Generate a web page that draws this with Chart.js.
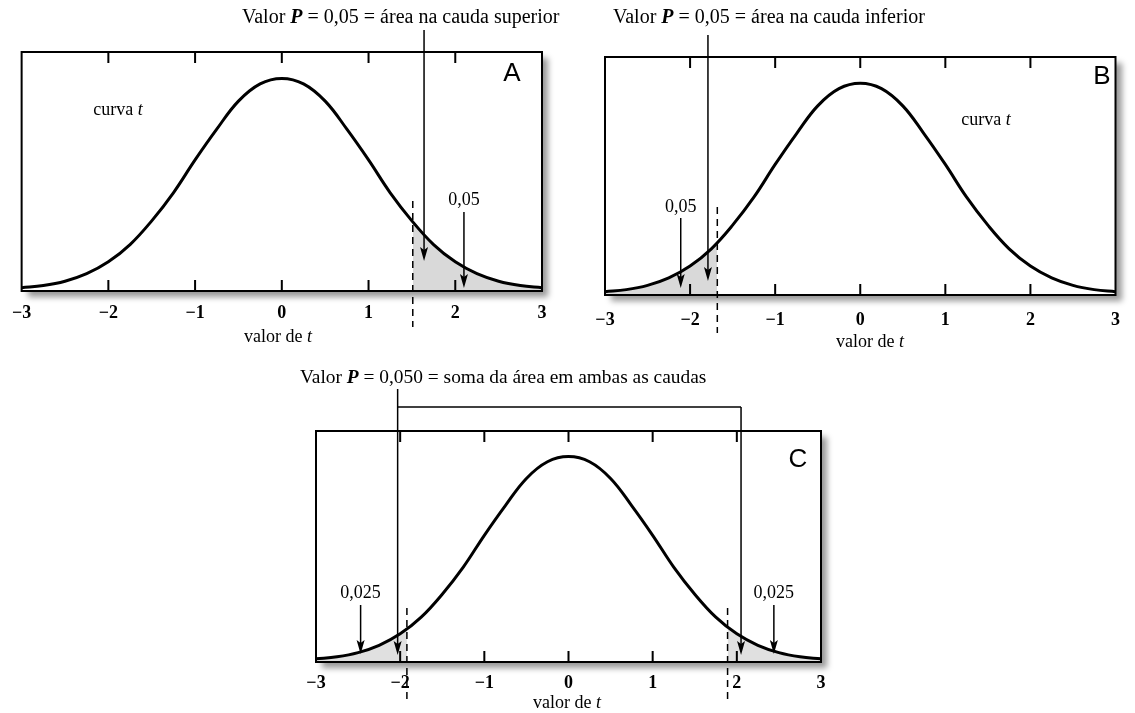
<!DOCTYPE html>
<html lang="pt">
<head>
<meta charset="utf-8">
<title>Valor P na curva t</title>
<script src="https://cdn.jsdelivr.net/npm/chart.js@4.4.1/dist/chart.umd.min.js"></script>
<style>
  html, body { margin: 0; padding: 0; background: #fff; }
  #page { position: relative; width: 1135px; height: 713px; }
  #page canvas { position: absolute; left: 0; top: 0; }
</style>
</head>
<body>
<div id="page">
  <canvas id="chartA" width="1135" height="713"></canvas>
  <canvas id="chartB" width="1135" height="713"></canvas>
  <canvas id="chartC" width="1135" height="713"></canvas>
</div>
<script>
// curva t (valor de t -> altura da curva)
const tValues = [-3, -2.75, -2.5, -2.25, -2, -1.75, -1.5, -1.25, -1, -0.75, -0.5, -0.25, 0,
                 0.25, 0.5, 0.75, 1, 1.25, 1.5, 1.75, 2, 2.25, 2.5, 2.75, 3];
const curveHeight = [0.006, 0.010, 0.018, 0.032, 0.054, 0.086, 0.130, 0.182, 0.243, 0.300, 0.352, 0.384, 0.394,
                     0.384, 0.352, 0.300, 0.243, 0.182, 0.130, 0.086, 0.054, 0.032, 0.018, 0.010, 0.006];
const tickLabels = ['\u22123', '\u22122', '\u22121', '0', '1', '2', '3'];

// caudas sombreadas
const tailA_t = [1.51, 1.75, 2, 2.25, 2.5, 2.75, 3];
const tailA_y = [0.131, 0.086, 0.054, 0.032, 0.018, 0.010, 0.006];
const tailB_t = [-3, -2.75, -2.5, -2.25, -2, -1.75, -1.68];
const tailB_y = [0.006, 0.010, 0.018, 0.032, 0.054, 0.086, 0.095];
const tailCLeft_t = [-3, -2.75, -2.5, -2.25, -2, -1.92];
const tailCLeft_y = [0.006, 0.010, 0.018, 0.032, 0.054, 0.063];
const tailCRight_t = [1.89, 2, 2.25, 2.5, 2.75, 3];
const tailCRight_y = [0.066, 0.054, 0.032, 0.018, 0.010, 0.006];

// valores críticos marcados nas figuras
const cutA = 1.51, arrowTitleA = 1.64, arrowAreaA = 2.1;
const cutB = -1.68, arrowTitleB = -1.79, arrowAreaB = -2.11;
const cutsC = [-1.92, 1.89], bracketC = [-2.03, 2.05], arrowsAreaC = [-2.47, 2.44];

const SERIF = '"Liberation Serif", "Times New Roman", serif';
const SANS = '"Liberation Sans", Arial, sans-serif';
const AXIS_H = 40;

const pts = (xs, ys) => xs.map((x, i) => ({ x: x, y: ys[i] }));

function richText(ctx, parts, x, y, align) {
  ctx.textBaseline = 'middle';
  ctx.textAlign = 'left';
  let w = 0;
  for (const [txt, font] of parts) { ctx.font = font; w += ctx.measureText(txt).width; }
  let cx = align === 'center' ? x - w / 2 : x;
  for (const [txt, font] of parts) {
    ctx.font = font;
    ctx.fillText(txt, cx, y);
    cx += ctx.measureText(txt).width;
  }
}

function titleParts(before, after, size) {
  const f = size + 'px ' + SERIF;
  return [[before, f], ['P', 'bold italic ' + size + 'px ' + SERIF], [after, f]];
}

function arrowDown(ctx, x, y1, y2) {
  ctx.beginPath();
  ctx.moveTo(x, y1);
  ctx.lineTo(x, y2 - 10);
  ctx.lineWidth = 1.5;
  ctx.stroke();
  ctx.beginPath();
  ctx.moveTo(x, y2);
  ctx.lineTo(x - 4, y2 - 14);
  ctx.lineTo(x, y2 - 11);
  ctx.lineTo(x + 4, y2 - 14);
  ctx.closePath();
  ctx.fill();
}

function dashedV(ctx, x, y1, y2) {
  ctx.save();
  ctx.setLineDash([7, 5]);
  ctx.lineWidth = 1.5;
  ctx.beginPath();
  ctx.moveTo(x, y1);
  ctx.lineTo(x, y2);
  ctx.stroke();
  ctx.restore();
}

const panels = [
  {
    canvas: 'chartA', letter: 'A', letterPos: [512, 74],
    area: { left: 19, right: 542, top: 52, bottom: 291 }, tickPad: 12,
    tails: [pts(tailA_t, tailA_y)], shade: '#d9d9d9',
    xTitle: [278, 337],
    curvaT: [118, 110],
    title: { parts: titleParts('Valor ', ' = 0,05 = área na cauda superior', 20), x: 242, y: 18 },
    marks(ctx, xs) {
      dashedV(ctx, xs.getPixelForValue(cutA), 201, 327);
      arrowDown(ctx, xs.getPixelForValue(arrowTitleA), 30, 261);
      arrowDown(ctx, xs.getPixelForValue(arrowAreaA), 212, 288);
      richText(ctx, [['0,05', '18px ' + SERIF]], xs.getPixelForValue(arrowAreaA), 200, 'center');
    }
  },
  {
    canvas: 'chartB', letter: 'B', letterPos: [1102, 77],
    area: { left: 605, right: 1129, top: 57, bottom: 295 }, tickPad: 15,
    tails: [pts(tailB_t, tailB_y)], shade: '#d9d9d9',
    xTitle: [870, 342],
    curvaT: [986, 120],
    title: { parts: titleParts('Valor ', ' = 0,05 = área na cauda inferior', 20), x: 613, y: 18 },
    marks(ctx, xs) {
      dashedV(ctx, xs.getPixelForValue(cutB), 207, 333);
      arrowDown(ctx, xs.getPixelForValue(arrowTitleB), 35, 281);
      arrowDown(ctx, xs.getPixelForValue(arrowAreaB), 218, 288);
      richText(ctx, [['0,05', '18px ' + SERIF]], xs.getPixelForValue(arrowAreaB), 207, 'center');
    }
  },
  {
    canvas: 'chartC', letter: 'C', letterPos: [798, 460],
    area: { left: 316, right: 821, top: 431, bottom: 662 }, tickPad: 11,
    tails: [pts(tailCLeft_t, tailCLeft_y), pts(tailCRight_t, tailCRight_y)], shade: '#e0e0e0',
    xTitle: [567, 703],
    curvaT: null,
    title: { parts: titleParts('Valor ', ' = 0,050 = soma da área em ambas as caudas', 19.4), x: 300, y: 378 },
    marks(ctx, xs) {
      cutsC.forEach(c => dashedV(ctx, xs.getPixelForValue(c), 608, 701));
      const bl = xs.getPixelForValue(bracketC[0]), br = xs.getPixelForValue(bracketC[1]);
      ctx.beginPath();
      ctx.moveTo(bl, 407);
      ctx.lineTo(br, 407);
      ctx.lineWidth = 1.5;
      ctx.stroke();
      arrowDown(ctx, bl, 389, 655);
      arrowDown(ctx, br, 407, 655);
      arrowsAreaC.forEach(a => {
        const px = xs.getPixelForValue(a);
        arrowDown(ctx, px, 605, 654);
        richText(ctx, [['0,025', '18px ' + SERIF]], px, 593, 'center');
      });
    }
  }
];

function panelPlugin(p) {
  return {
    id: 'panel' + p.letter,
    beforeDatasetsDraw(chart) {
      const a = chart.chartArea, ctx = chart.ctx;
      ctx.save();
      ctx.shadowColor = 'rgba(0,0,0,0.4)';
      ctx.shadowBlur = 6;
      ctx.shadowOffsetX = 6;
      ctx.shadowOffsetY = 6;
      ctx.fillStyle = '#fff';
      ctx.fillRect(a.left, a.top, a.right - a.left, a.bottom - a.top);
      ctx.restore();
    },
    afterDatasetsDraw(chart) {
      const a = chart.chartArea, ctx = chart.ctx, xs = chart.scales.x;
      ctx.save();
      ctx.strokeStyle = '#000';
      ctx.fillStyle = '#000';
      // moldura
      ctx.lineWidth = 2;
      ctx.strokeRect(a.left, a.top, a.right - a.left, a.bottom - a.top);
      // marcas internas do eixo
      for (let v = -2; v <= 2; v++) {
        const x = xs.getPixelForValue(v);
        ctx.beginPath();
        ctx.moveTo(x, a.top);
        ctx.lineTo(x, a.top + 11);
        ctx.moveTo(x, a.bottom);
        ctx.lineTo(x, a.bottom - 11);
        ctx.stroke();
      }
      p.marks(ctx, xs);
      // textos
      richText(ctx, p.title.parts, p.title.x, p.title.y, 'left');
      richText(ctx, [['valor de ', '18px ' + SERIF], ['t', 'italic 18px ' + SERIF]], p.xTitle[0], p.xTitle[1], 'center');
      if (p.curvaT) {
        richText(ctx, [['curva ', '18px ' + SERIF], ['t', 'italic 18px ' + SERIF]], p.curvaT[0], p.curvaT[1], 'center');
      }
      ctx.font = '26px ' + SANS;
      ctx.textAlign = 'center';
      ctx.textBaseline = 'middle';
      ctx.fillText(p.letter, p.letterPos[0], p.letterPos[1]);
      ctx.restore();
    }
  };
}

panels.forEach(p => {
  const datasets = [{
    data: pts(tValues, curveHeight),
    borderColor: '#000',
    borderWidth: 3,
    pointRadius: 0,
    tension: 0.4,
    fill: false,
    order: 0
  }];
  p.tails.forEach(tail => datasets.push({
    data: tail,
    borderColor: 'transparent',
    borderWidth: 0,
    backgroundColor: p.shade,
    pointRadius: 0,
    tension: 0.4,
    fill: 'origin',
    order: 1
  }));

  new Chart(document.getElementById(p.canvas), {
    type: 'line',
    data: { datasets: datasets },
    options: {
      responsive: false,
      animation: false,
      events: [],
      layout: {
        padding: {
          left: p.area.left,
          right: 1135 - p.area.right,
          top: p.area.top,
          bottom: 713 - p.area.bottom - AXIS_H
        }
      },
      plugins: { legend: { display: false }, tooltip: { enabled: false } },
      scales: {
        x: {
          type: 'linear',
          min: -3,
          max: 3,
          afterFit(scale) { scale.height = AXIS_H; },
          grid: { display: false, drawTicks: false },
          border: { display: false },
          ticks: {
            stepSize: 1,
            maxRotation: 0,
            autoSkip: false,
            padding: p.tickPad,
            color: '#000',
            font: { family: SERIF, size: 18, weight: 'bold' },
            callback: v => tickLabels[v + 3]
          }
        },
        y: { min: 0, max: 0.443, display: false }
      }
    },
    plugins: [panelPlugin(p)]
  });
});
</script>
</body>
</html>
